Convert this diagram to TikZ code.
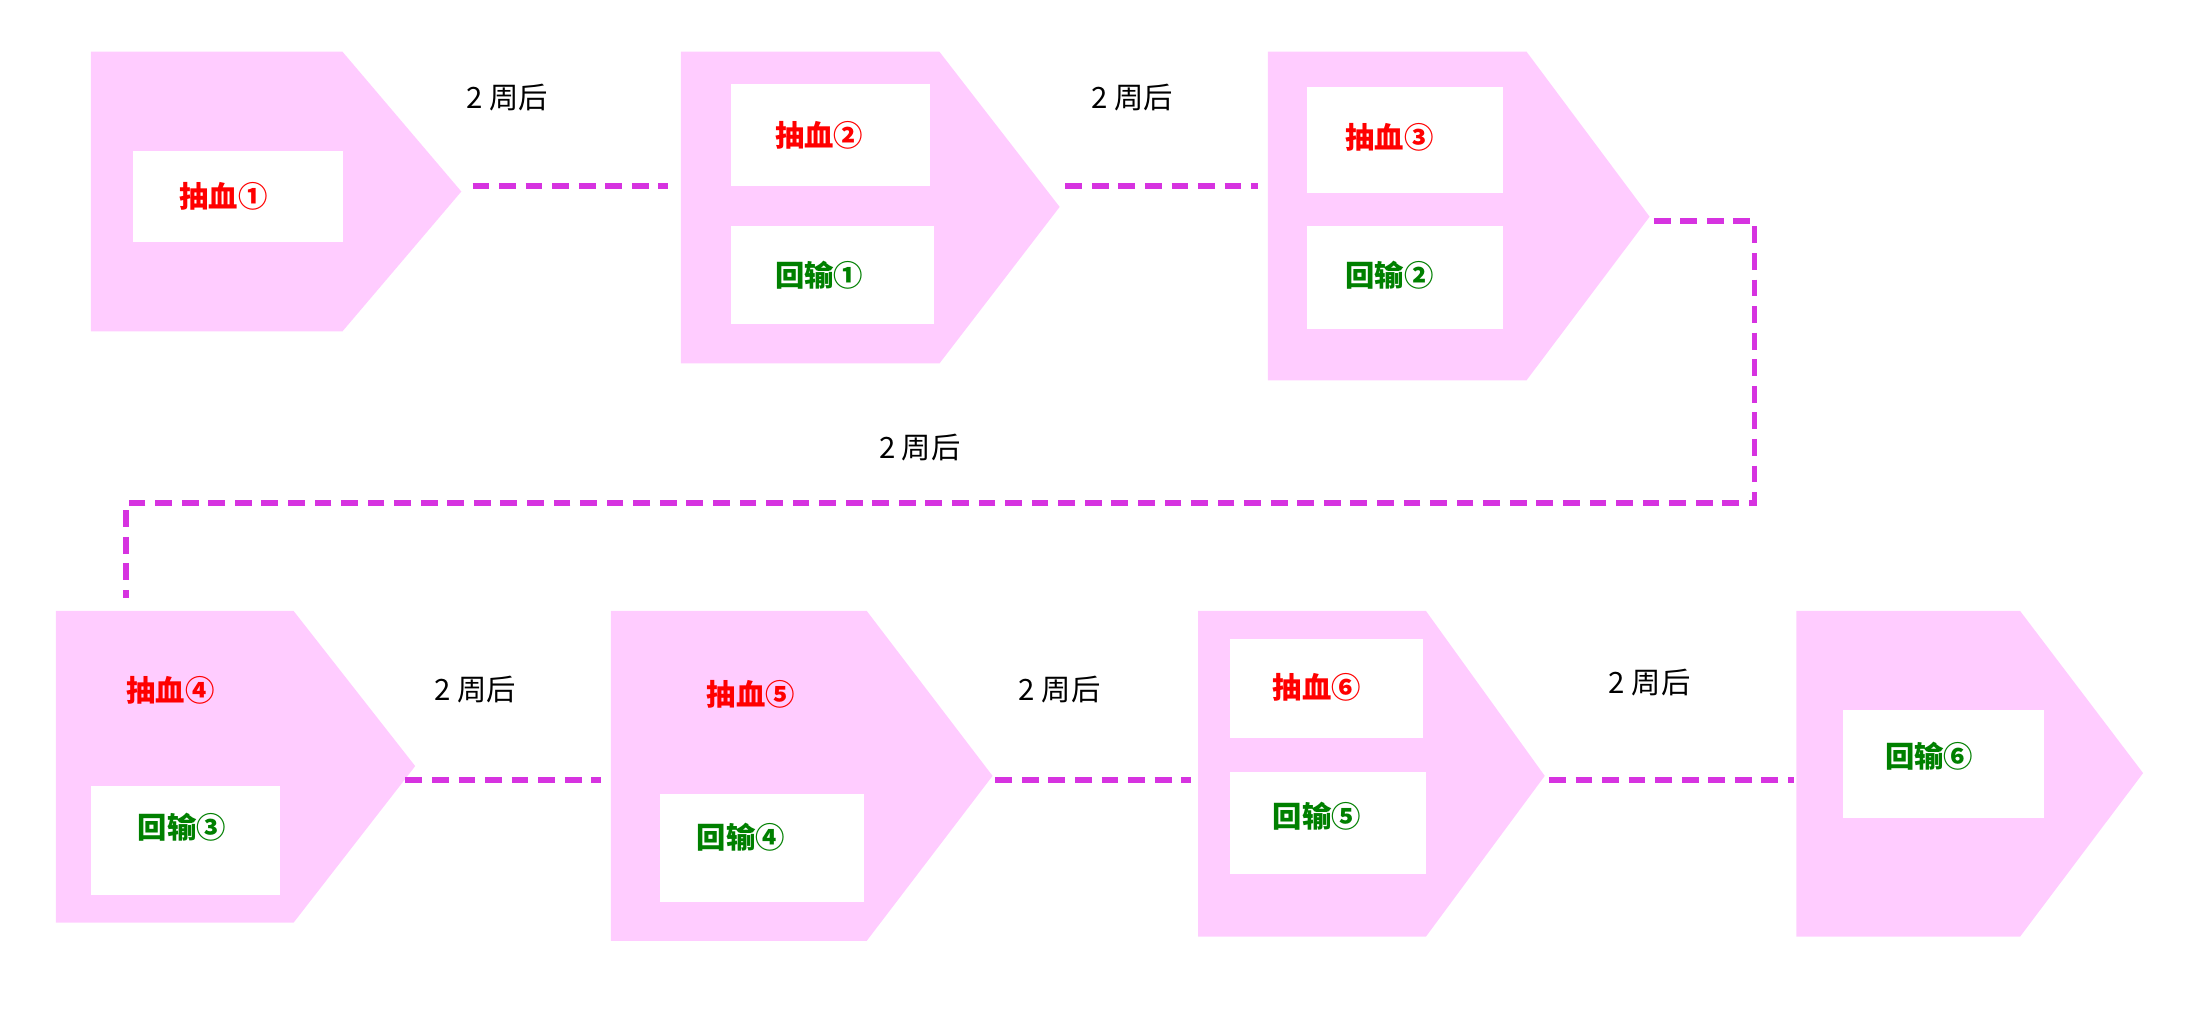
\documentclass[tikz,border=0pt]{standalone}
\usepackage{fontspec}
\setmainfont{Noto Sans CJK SC}
\begin{document}
\begin{tikzpicture}[x=0.5pt,y=-0.5pt,
 pk/.style={fill=pinkfill,draw=none},
 wb/.style={fill=white,draw=none},
 rd/.style={text=red,font=\fontsize{10.5}{12}\selectfont\bfseries},
 gn/.style={text=green!50!black,font=\fontsize{10.5}{12}\selectfont\bfseries},
 lb/.style={font=\fontsize{10.5}{12}\selectfont},
 dl/.style={draw=dashc,line width=2pt,dash pattern=on 6pt off 3.5pt}]
\definecolor{pinkfill}{HTML}{FFCCFF}
\definecolor{dashc}{HTML}{D633E0}
\useasboundingbox (0,0) rectangle (1568,740);
% shapes
\newcommand{\pent}[6]{\fill[pk] (#1,#2) -- (#3,#2) -- (#4,#6) -- (#3,#5) -- (#1,#5) -- cycle;}
\pent{65}{37}{245}{330}{237}{137}
\pent{487}{37}{672}{758}{260}{148}
\pent{907}{37}{1092}{1180}{272}{155}
\pent{40}{437}{210}{297}{660}{548}
\pent{437}{437}{620}{710}{673}{555}
\pent{857}{437}{1020}{1105}{670}{555}
\pent{1285}{437}{1445}{1533}{670}{553}
% boxes
\node[wb,minimum width=75pt,minimum height=32.5pt] (b1) at (170,140.5) {};
\node[rd] (t1) at (160,140.5) {抽血①};
\node[wb,minimum width=71pt,minimum height=36.5pt] (b2) at (594,96.5) {};
\node[rd] (t2) at (586,96.5) {抽血②};
\node[wb,minimum width=72.5pt,minimum height=35pt] (b3) at (595.5,197) {};
\node[gn] (t3) at (586,197) {回输①};
\node[wb,minimum width=70pt,minimum height=38pt] (b4) at (1005,100) {};
\node[rd] (t4) at (994,98) {抽血③};
\node[wb,minimum width=70pt,minimum height=36.5pt] (b5) at (1005,198.5) {};
\node[gn] (t5) at (994,197) {回输②};
\node[rd] (t6) at (122,494) {抽血④};
\node[wb,minimum width=67.5pt,minimum height=39pt] (b7) at (132.5,601) {};
\node[gn] (t7) at (130,592) {回输③};
\node[rd] (t8) at (537,497) {抽血⑤};
\node[wb,minimum width=73pt,minimum height=38.5pt] (b9) at (545,606.5) {};
\node[gn] (t9) at (530,599) {回输④};
\node[wb,minimum width=69pt,minimum height=35.5pt] (b10) at (949,492.5) {};
\node[rd] (t10) at (942,492) {抽血⑥};
\node[wb,minimum width=70pt,minimum height=36.5pt] (b11) at (950,588.5) {};
\node[gn] (t11) at (942,584) {回输⑤};
\node[wb,minimum width=72pt,minimum height=38.5pt] (b12) at (1390,546.5) {};
\node[gn] (t12) at (1380,541) {回输⑥};
% connectors
\coordinate (p1a) at (338,133); \coordinate (p1b) at (478,133);
\draw[dl] (p1a) -- (p1b);
\coordinate (p2a) at (762,133); \coordinate (p2b) at (900,133);
\draw[dl] (p2a) -- (p2b);
\coordinate (p3a) at (1183,158); \coordinate (p3b) at (90,428);
\draw[dl] (p3a) -- (1255,158) -- (1255,360) -- (90,360) -- (p3b);
\coordinate (p4a) at (290,558); \coordinate (p4b) at (430,558);
\draw[dl] (p4a) -- (p4b);
\coordinate (p5a) at (712,558); \coordinate (p5b) at (852,558);
\draw[dl] (p5a) -- (p5b);
\coordinate (p6a) at (1108,558); \coordinate (p6b) at (1283,558);
\draw[dl] (p6a) -- (p6b);
% labels
\node[lb] (l1) at (363,70) {2 周后};
\node[lb] (l2) at (810,70) {2 周后};
\node[lb] (l3) at (658,320) {2 周后};
\node[lb] (l4) at (340,493) {2 周后};
\node[lb] (l5) at (758,493) {2 周后};
\node[lb] (l6) at (1180,488) {2 周后};
\end{tikzpicture}
\end{document}
